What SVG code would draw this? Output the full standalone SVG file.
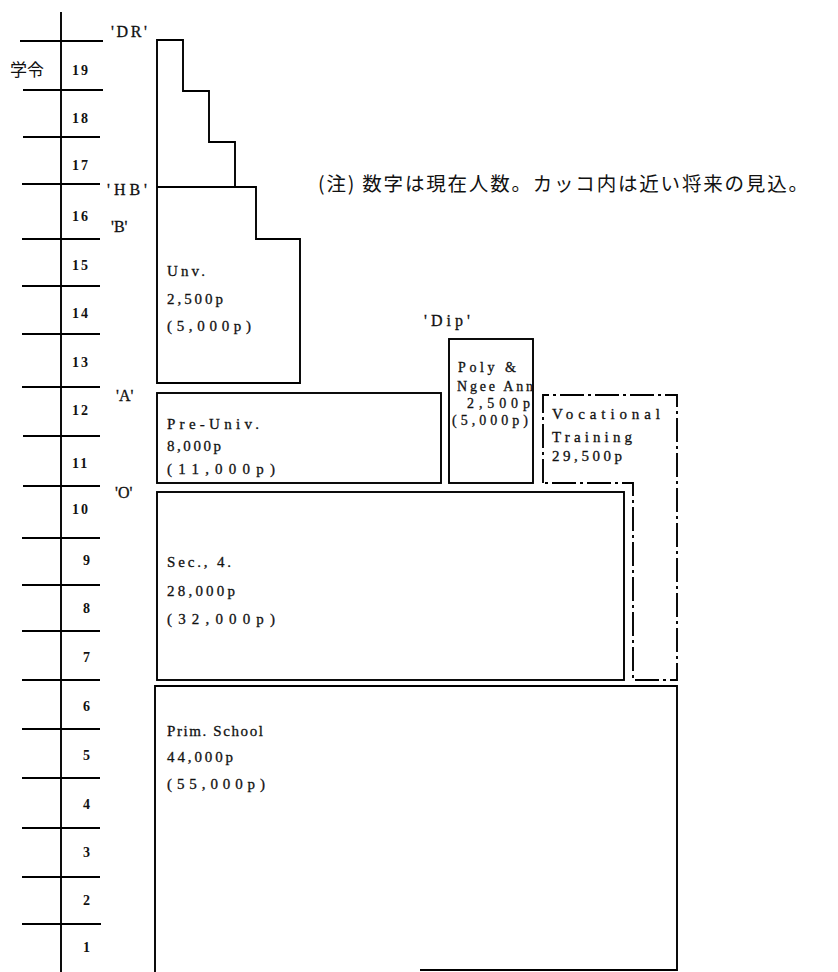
<svg xmlns="http://www.w3.org/2000/svg" width="838" height="972" viewBox="0 0 838 972">
<style>
.ln{stroke:#000;stroke-width:1.9;fill:none}
.dd{stroke:#000;stroke-width:1.9;fill:none;stroke-dasharray:24 4 3 4}
.ax{font-family:"Liberation Serif",serif;font-weight:bold;font-size:14px;letter-spacing:2px;fill:#111}
.lb{font-family:"Liberation Serif",serif;font-size:16px;fill:#111;stroke:#111;stroke-width:0.3}
.tx{font-family:"Liberation Serif",serif;font-size:15px;fill:#111;stroke:#111;stroke-width:0.3}
.sm{font-family:"Liberation Serif",serif;font-size:14px;fill:#111;stroke:#111;stroke-width:0.3}
.jp{font-family:"Noto Sans CJK JP",sans-serif;fill:#111}
</style>
<rect width="838" height="972" fill="#fff"/>
<g id="axis">
<path class="ln" d="M61,12V972"/>
<path class="ln" d="M20,41H103M23,90H103M23,137H100M22,184H100M22,239H100M22,286H100M22,334H100M22,387H100M23,436H100M23,486H100M22,538H100M22,585H100M22,631H100M22,680H100M22,729H100M22,778H100M22,828H100M22,877H100M22,924H101"/>
<text class="jp" x="10" y="76" font-size="17">学令</text>
<text class="ax" x="72" y="75">19</text>
<text class="ax" x="72" y="123">18</text>
<text class="ax" x="72" y="170">17</text>
<text class="ax" x="72" y="221">16</text>
<text class="ax" x="72" y="270">15</text>
<text class="ax" x="72" y="318">14</text>
<text class="ax" x="72" y="367">13</text>
<text class="ax" x="72" y="415">12</text>
<text class="ax" x="72" y="468">11</text>
<text class="ax" x="72" y="514">10</text>
<text class="ax" x="83" y="565">9</text>
<text class="ax" x="83" y="613">8</text>
<text class="ax" x="83" y="662">7</text>
<text class="ax" x="83" y="711">6</text>
<text class="ax" x="83" y="760">5</text>
<text class="ax" x="83" y="809">4</text>
<text class="ax" x="83" y="857">3</text>
<text class="ax" x="83" y="905">2</text>
<text class="ax" x="83" y="952">1</text>
</g>
<g id="levels">
<text class="lb" x="111" y="37" textLength="36" lengthAdjust="spacing">'DR'</text>
<text class="lb" x="107" y="195" textLength="40" lengthAdjust="spacing">'HB'</text>
<text class="lb" x="111" y="232">'B'</text>
<text class="lb" x="116" y="401">'A'</text>
<text class="lb" x="115" y="498">'O'</text>
<text class="lb" x="424" y="326" textLength="46" lengthAdjust="spacing">'Dip'</text>
</g>
<g id="note">
<text class="jp" x="318" y="191" font-size="19.5" textLength="490" lengthAdjust="spacing">(注)  数字は現在人数。カッコ内は近い将来の見込。</text>
</g>
<g id="univ">
<path class="ln" d="M157,383V40H183V91H209V142H235V187H256V239H300V383Z M157,187H235"/>
<text class="tx" x="167" y="276" textLength="38" lengthAdjust="spacing">Unv.</text>
<text class="tx" x="167" y="304" textLength="56" lengthAdjust="spacing">2,500p</text>
<text class="tx" x="167" y="331" textLength="84" lengthAdjust="spacing">(5,000p)</text>
</g>
<g id="preuniv">
<rect class="ln" x="157" y="393" width="284" height="90"/>
<text class="tx" x="167" y="429" textLength="92" lengthAdjust="spacing">Pre-Univ.</text>
<text class="tx" x="167" y="451" textLength="54" lengthAdjust="spacing">8,000p</text>
<text class="tx" x="167" y="474" textLength="108" lengthAdjust="spacing">(11,000p)</text>
</g>
<g id="poly">
<rect class="ln" x="449" y="339" width="84" height="144"/>
<text class="sm" x="458" y="372" textLength="58" lengthAdjust="spacing">Poly &amp;</text>
<text class="sm" x="457" y="391" textLength="76" lengthAdjust="spacing">Ngee Ann</text>
<text class="sm" x="467" y="408" textLength="63" lengthAdjust="spacing">2,500p</text>
<text class="sm" x="452" y="425" textLength="76" lengthAdjust="spacing">(5,000p)</text>
</g>
<g id="vocational">
<path class="dd" d="M543,483V395H677V680H633V483Z"/>
<text class="tx" x="552" y="419" textLength="108" lengthAdjust="spacing">Vocational</text>
<text class="tx" x="552" y="442" textLength="80" lengthAdjust="spacing">Training</text>
<text class="tx" x="552" y="461" textLength="70" lengthAdjust="spacing">29,500p</text>
</g>
<g id="secondary">
<rect class="ln" x="157" y="492" width="467" height="188"/>
<text class="tx" x="167" y="567" textLength="64" lengthAdjust="spacing">Sec., 4.</text>
<text class="tx" x="167" y="596" textLength="68" lengthAdjust="spacing">28,000p</text>
<text class="tx" x="167" y="624" textLength="108" lengthAdjust="spacing">(32,000p)</text>
</g>
<g id="primary">
<path class="ln" d="M155,972V686H677V970H420"/>
<text class="tx" x="167" y="736" textLength="96" lengthAdjust="spacing">Prim. School</text>
<text class="tx" x="167" y="762" textLength="66" lengthAdjust="spacing">44,000p</text>
<text class="tx" x="167" y="789" textLength="98" lengthAdjust="spacing">(55,000p)</text>
</g>
</svg>
